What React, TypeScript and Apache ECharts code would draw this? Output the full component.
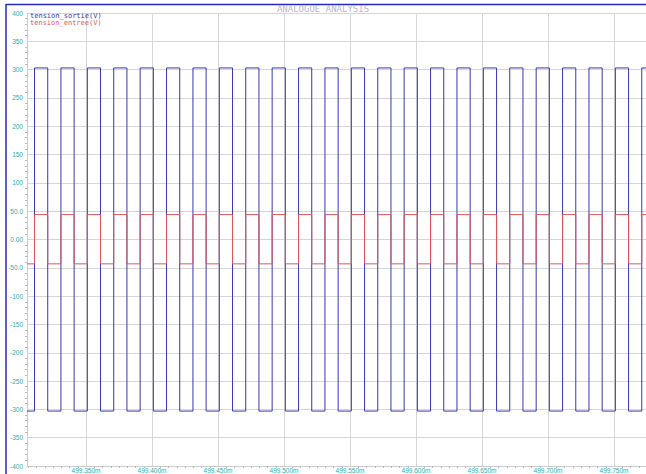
import React, { useEffect, useRef } from "react";
import * as echarts from "echarts";

const seriesNames = ["tension_sortie(V)", "tension_entree(V)"];
const seriesColors = ["#3838b0", "#e05858"];
// levels: [low, high]
const sortieLevels = [-303, 303];
const entreeLevels = [-43, 44];
const xMin = 499.3053;
const xMax = 499.7742;
// transition instants (ms), alternately rising and falling
const edgeTimes = [
  499.311, 499.321, 499.331, 499.341, 499.351, 499.361, 499.371, 499.381,
  499.391, 499.401, 499.411, 499.421, 499.431, 499.441, 499.451, 499.461,
  499.471, 499.481, 499.491, 499.501, 499.511, 499.521, 499.531, 499.541,
  499.551, 499.561, 499.571, 499.581, 499.591, 499.601, 499.611, 499.621,
  499.631, 499.641, 499.651, 499.661, 499.671, 499.681, 499.691, 499.701,
  499.711, 499.721, 499.731, 499.741, 499.751, 499.761, 499.771,
];

function buildWave(levels: number[]) {
  const pts: number[][] = [];
  let state = 0;
  pts.push([xMin, levels[state]]);
  for (const t of edgeTimes) {
    pts.push([t, levels[state]]);
    state = 1 - state;
    pts.push([t, levels[state]]);
  }
  pts.push([xMax, levels[state]]);
  return pts;
}

const FONT = "DejaVu Sans Mono";
const LABEL_FONT = "Liberation Sans";

export default function App() {
  const ref = useRef<HTMLDivElement>(null);
  useEffect(() => {
    const chart = echarts.init(ref.current!, null, { renderer: "svg" });
    chart.setOption({
      animation: false,
      backgroundColor: "#ffffff",
      grid: { left: 27, right: 0, top: 13, bottom: 7, containLabel: false },
      legend: {
        left: 25,
        top: 12,
        orient: "vertical",
        icon: "none",
        itemWidth: 0,
        itemHeight: 7,
        itemGap: 0,
        padding: 0,
        textStyle: { fontSize: 7, fontFamily: FONT, lineHeight: 7 },
        data: seriesNames.map((n, i) => ({ name: n, textStyle: { color: seriesColors[i] } })),
      },
      xAxis: {
        type: "value",
        min: xMin,
        max: xMax,
        minInterval: 0.05,
        maxInterval: 0.05,
        axisLine: { show: true, onZero: false, lineStyle: { color: "#cccccc" } },
        axisTick: { show: false },
        minorTick: { show: true, splitNumber: 8, length: 2, lineStyle: { color: "#bbbbbb" } },
        splitLine: { show: true, lineStyle: { color: "#d6d6d6", width: 1 } },
        axisLabel: {
          showMinLabel: false,
          showMaxLabel: false,
          margin: 1,
          fontSize: 6.5,
          fontFamily: LABEL_FONT,
          color: "#2ab0b0",
          formatter: (v: number) => v.toFixed(3) + "m",
        },
      },
      yAxis: {
        type: "value",
        min: -400,
        max: 400,
        interval: 50,
        axisLine: { show: true, onZero: false, lineStyle: { color: "#cccccc" } },
        axisTick: { show: false },
        minorTick: { show: true, splitNumber: 5, length: 2, lineStyle: { color: "#bbbbbb" } },
        splitLine: { show: true, lineStyle: { color: "#d6d6d6", width: 1 } },
        axisLabel: {
          margin: 4,
          fontSize: 6.5,
          fontFamily: LABEL_FONT,
          color: "#2ab0b0",
          formatter: (v: number) => {
            if (v === 0) return "0.00";
            if (Math.abs(v) === 50) return v.toFixed(1);
            return String(v);
          },
        },
      },
      series: [
        {
          name: seriesNames[0],
          type: "line",
          data: buildWave(sortieLevels),
          showSymbol: false,
          lineStyle: { color: seriesColors[0], width: 1 },
          itemStyle: { color: seriesColors[0] },
          z: 2,
        },
        {
          name: seriesNames[1],
          type: "line",
          data: buildWave(entreeLevels),
          showSymbol: false,
          lineStyle: { color: seriesColors[1], width: 1 },
          itemStyle: { color: seriesColors[1] },
          z: 3,
        },
      ],
      graphic: [
        { type: "line", shape: { x1: 6, y1: 4.5, x2: 646, y2: 4.5 }, style: { stroke: "#2828c0", lineWidth: 1.5 } },
        { type: "line", shape: { x1: 6, y1: 4, x2: 6, y2: 474 }, style: { stroke: "#2828c0", lineWidth: 1.5 } },
        {
          type: "text",
          left: "center",
          top: 4,
          style: { text: "ANALOGUE ANALYSIS", fontSize: 9, fontFamily: FONT, fill: "#b8b8cc" },
        },
      ],
    });
    return () => chart.dispose();
  }, []);
  return (
    <div
      ref={ref}
      style={{ position: "fixed", left: 0, top: 0, width: 646, height: 474, background: "#fff" }}
    />
  );
}
